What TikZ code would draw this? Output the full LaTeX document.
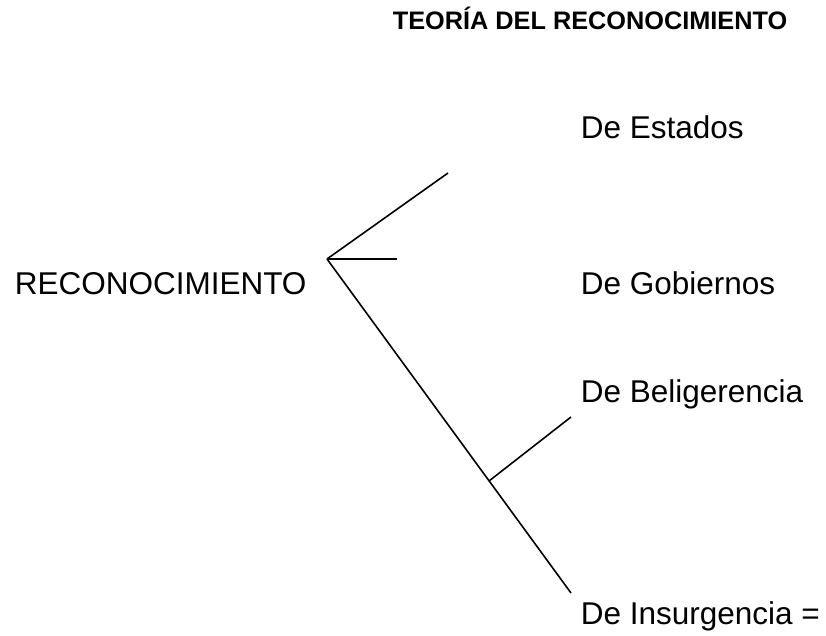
\documentclass[tikz,border=0pt]{standalone}
\usepackage{fontspec}
\setmainfont{Liberation Sans}
\begin{document}
\begin{tikzpicture}[x=1pt, y=-1pt, line width=1.6pt,
  rama/.style={anchor=base west, inner sep=0pt, font=\fontsize{31.5}{36}\selectfont},
  titulo/.style={anchor=base west, inner sep=0pt, font=\bfseries\fontsize{25.3}{28}\selectfont}]
\useasboundingbox (0,0) rectangle (826,636);

% Title
\node[titulo] (tit) at (392,30) {TEORÍA DEL RECONOCIMIENTO};

% Texts
\node[rama] (reconocimiento) at (14,294) {RECONOCIMIENTO};
\node[rama] (estados) at (580,139) {De Estados};
\node[rama] (gobiernos) at (580,294) {De Gobiernos};
\node[rama] (beligerencia) at (580,402) {De Beligerencia};
\node[rama] (insurgencia) at (580,624) {De Insurgencia =};

% Branch points
\coordinate (raiz) at (327,259);
\coordinate (finEstados) at (448,173);
\coordinate (finGobiernos) at (397,259);
\coordinate (nudo) at (489,481);
\coordinate (finBelig) at (571,417);
\coordinate (finInsurg) at (571,593);

% Draw the branches
\draw (raiz) -- (finEstados);
\draw (raiz) -- (finGobiernos);
\draw (raiz) -- (finInsurg);
\draw (nudo) -- (finBelig);
\end{tikzpicture}
\end{document}
